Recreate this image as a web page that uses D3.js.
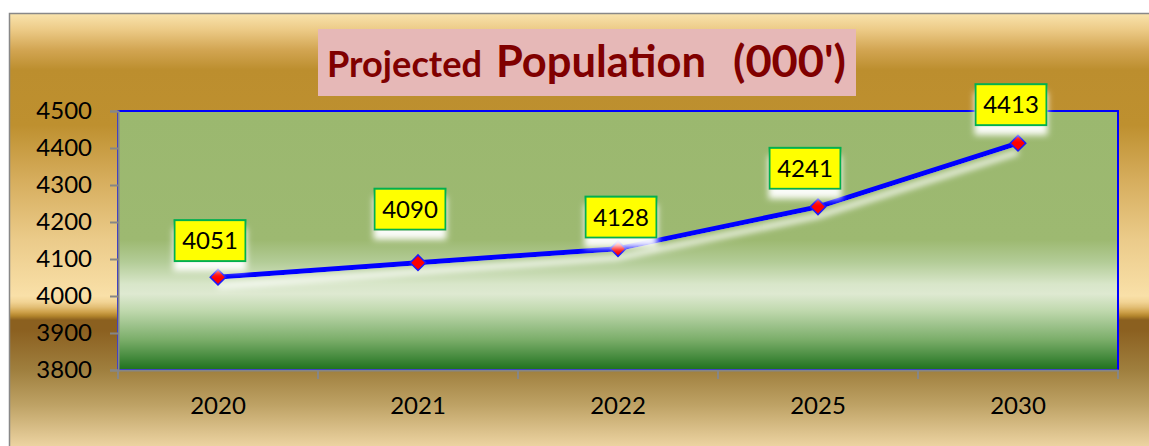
<!DOCTYPE html>
<html>
<head>
<meta charset="utf-8">
<script src="https://cdn.jsdelivr.net/npm/d3@7"></script>
<style>
  html, body { margin: 0; padding: 0; background: #fff; }
  svg { display: block; font-family: Lato, 'Open Sans', sans-serif; }
</style>
</head>
<body>
<svg id="chart" width="1149" height="446"></svg>
<script>
// data
const years = ['2020', '2021', '2022', '2025', '2030']
const population = [4051, 4090, 4128, 4241, 4413]
const yTicks = [3800, 3900, 4000, 4100, 4200, 4300, 4400, 4500]
const titleParts = ['Projected', 'Population', "(000')"]

// where each value box sits relative to its point (dx of box centre, gap above point)
const labelNudge = [[-8, 16], [-8, 33], [3, 11], [-13, 18], [-7, 18]]

const svg = d3.select('#chart')
const defs = svg.append('defs')

const plot = {left: 118, right: 1118, top: 111, bottom: 370}

// outer gold background
const bg = defs.append('linearGradient')
  .attr('id', 'bgGrad')
  .attr('gradientUnits', 'userSpaceOnUse')
  .attr('x1', 0).attr('x2', 0).attr('y1', 13).attr('y2', 446)
const bgStops = [
  [14, '#f9e3ac'], [30, '#ecca86'], [50, '#d2a552'], [70, '#bc8e2e'],
  [125, '#be902f'], [180, '#d6ad5d'], [240, '#ebcb8a'], [296, '#f9e0a8'],
  [302, '#f2d495'], [307, '#e3bf76'], [312, '#cfa24b'], [316, '#b3852c'],
  [320, '#8b601f'], [330, '#8b6020'], [370, '#9f7f3e'], [405, '#bea265'],
  [446, '#ecd3a1']
]
bg.selectAll('stop').data(bgStops).enter().append('stop')
  .attr('offset', d => (d[0] - 13) / (446 - 13))
  .attr('stop-color', d => d[1])

// green plot area
const pg = defs.append('linearGradient')
  .attr('id', 'plotGrad')
  .attr('gradientUnits', 'userSpaceOnUse')
  .attr('x1', 0).attr('x2', 0).attr('y1', plot.top).attr('y2', plot.bottom)
const plotStops = [
  [111, '#9bb86f'], [240, '#9db971'], [262, '#b3cc97'], [284, '#d8e6c9'],
  [294, '#dee9d1'], [310, '#c1d9af'], [340, '#7aad69'], [370, '#1e711e']
]
pg.selectAll('stop').data(plotStops).enter().append('stop')
  .attr('offset', d => (d[0] - plot.top) / (plot.bottom - plot.top))
  .attr('stop-color', d => d[1])

// white soft shadow below things
const glow = defs.append('filter').attr('id', 'whiteShadow')
  .attr('x', '-20%').attr('y', '-20%').attr('width', '140%').attr('height', '160%')
glow.append('feGaussianBlur').attr('in', 'SourceAlpha').attr('stdDeviation', 3).attr('result', 'blur')
glow.append('feOffset').attr('in', 'blur').attr('dx', 0).attr('dy', 9).attr('result', 'off')
glow.append('feFlood').attr('flood-color', '#ffffff').attr('flood-opacity', 0.95)
glow.append('feComposite').attr('in2', 'off').attr('operator', 'in').attr('result', 'shadow')
const merge = glow.append('feMerge')
merge.append('feMergeNode').attr('in', 'shadow')
merge.append('feMergeNode').attr('in', 'SourceGraphic')

// frame
svg.append('rect')
  .attr('x', 9.5).attr('y', 13.5).attr('width', 1160).attr('height', 460)
  .attr('fill', 'url(#bgGrad)')
  .attr('stroke', '#888').attr('stroke-width', 1.5)

// title
svg.append('rect')
  .attr('x', 318).attr('y', 29).attr('width', 538).attr('height', 67)
  .attr('fill', '#e6b8b7')
const titleLayout = [
  {x: 327, size: 36, len: 155},
  {x: 496, size: 44, len: 210},
  {x: 733, size: 44, len: 113}
]
svg.append('g').selectAll('text')
  .data(titleParts)
  .enter().append('text')
  .attr('x', (d, i) => titleLayout[i].x)
  .attr('y', 77)
  .attr('font-size', (d, i) => titleLayout[i].size)
  .attr('font-weight', 'bold')
  .attr('fill', '#800000')
  .attr('textLength', (d, i) => titleLayout[i].len)
  .attr('lengthAdjust', 'spacingAndGlyphs')
  .text(d => d)

// scales
const x = d3.scaleBand()
  .domain(years)
  .range([plot.left, plot.right])
const y = d3.scaleLinear()
  .domain([3800, 4500])
  .range([plot.bottom, plot.top])

// plot area with blue border
svg.append('rect')
  .attr('x', plot.left).attr('y', plot.top)
  .attr('width', plot.right - plot.left).attr('height', plot.bottom - plot.top)
  .attr('fill', 'url(#plotGrad)')
  .attr('stroke', '#0000ff').attr('stroke-width', 2)

// y axis
const yAxis = svg.append('g')
  .attr('transform', `translate(${plot.left}, 0)`)
  .call(d3.axisLeft(y).tickValues(yTicks).tickSize(8).tickPadding(18).tickFormat(d3.format('d')))
yAxis.select('.domain').attr('stroke', '#868686').attr('stroke-width', 2)
yAxis.selectAll('.tick line').attr('stroke', '#868686').attr('stroke-width', 2)
yAxis.selectAll('.tick text')
  .attr('font-size', 24).attr('fill', '#000')
  .attr('font-family', 'Lato, sans-serif')

// x axis, ticks sit between the categories
const xAxis = svg.append('g')
  .attr('transform', `translate(0, ${plot.bottom})`)
  .call(d3.axisBottom(x).tickSize(0).tickPadding(27))
xAxis.select('.domain').attr('stroke', '#868686').attr('stroke-width', 2)
xAxis.selectAll('.tick text')
  .attr('font-size', 24).attr('fill', '#000')
  .attr('font-family', 'Lato, sans-serif')
const bounds = years.map(d => x(d)).concat([x(years[years.length - 1]) + x.bandwidth()])
xAxis.selectAll('.sep')
  .data(bounds)
  .enter().append('line')
  .attr('class', 'sep')
  .attr('x1', d => d).attr('x2', d => d)
  .attr('y1', 0).attr('y2', 9)
  .attr('stroke', '#868686').attr('stroke-width', 2)

const cx = d => x(d) + x.bandwidth() / 2
const pts = years.map((d, i) => [cx(d), y(population[i])])

// line
svg.append('path')
  .datum(pts)
  .attr('d', d3.line())
  .attr('fill', 'none')
  .attr('stroke', '#0000ff')
  .attr('stroke-width', 5)
  .attr('stroke-linejoin', 'round')
  .attr('filter', 'url(#whiteShadow)')

// markers
svg.append('g').selectAll('path')
  .data(pts)
  .enter().append('path')
  .attr('transform', d => `translate(${d[0]}, ${d[1]}) rotate(45)`)
  .attr('d', 'M-5.5,-5.5H5.5V5.5H-5.5Z')
  .attr('fill', '#ff0000')
  .attr('stroke', '#1a1aff')
  .attr('stroke-width', 1.5)

// value labels
const boxW = 71, boxH = 41
const labels = svg.append('g').selectAll('g')
  .data(population)
  .enter().append('g')
  .attr('transform', (d, i) => {
    const bx = pts[i][0] + labelNudge[i][0] - boxW / 2
    const by = pts[i][1] - labelNudge[i][1] - boxH
    return `translate(${bx}, ${by})`
  })
labels.append('rect')
  .attr('width', boxW).attr('height', boxH)
  .attr('fill', '#ffff00')
  .attr('stroke', '#00b050').attr('stroke-width', 2)
  .attr('filter', 'url(#whiteShadow)')
labels.append('text')
  .attr('x', boxW / 2).attr('y', boxH / 2)
  .attr('dy', '0.36em')
  .attr('text-anchor', 'middle')
  .attr('font-size', 24)
  .attr('fill', '#000')
  .text(d => d)
</script>
</body>
</html>
